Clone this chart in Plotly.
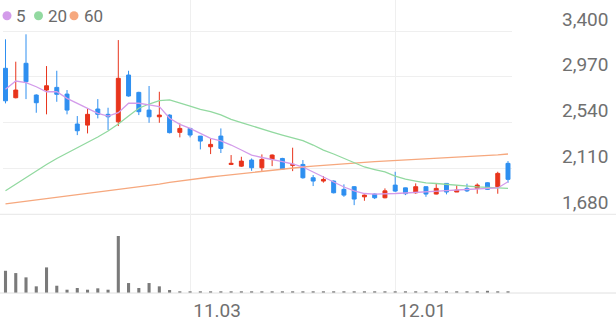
import plotly.graph_objects as go

# ---- data ----
idx = list(range(50))
opens = [3050, 2774, 3097, 2799, 2846, 2871, 2808, 2527, 2517, 2668,
         2618, 2548, 2987, 2824, 2658, 2595, 2611, 2449, 2486, 2414,
         2314, 2414, 2148, 2132, 2189, 2117, 2195, 2204, 2139, 2148,
         2023, 1992, 1992, 1914, 1939, 1844, 1870, 1835, 1954, 1928,
         1882, 1939, 1870, 1970, 1889, 1923, 1923, 1976, 1939, 2158]
highs = [3322, 3112, 3369, 2806, 3071, 3027, 2846, 2602, 2674, 2761,
         2680, 3315, 3027, 2830, 2884, 2830, 2618, 2533, 2490, 2414,
         2392, 2486, 2236, 2220, 2204, 2242, 2242, 2210, 2305, 2189,
         2048, 2038, 1998, 1961, 1945, 1866, 1875, 1923, 2079, 1930,
         1970, 1942, 1967, 1973, 1954, 1967, 1970, 1980, 2079, 2179]
lows = [2721, 2768, 2761, 2633, 2618, 2736, 2618, 2423, 2439, 2580,
        2470, 2508, 2784, 2611, 2539, 2539, 2439, 2402, 2402, 2289,
        2245, 2255, 2142, 2125, 2088, 2088, 2132, 2098, 2085, 2014,
        1945, 1977, 1876, 1844, 1766, 1807, 1823, 1830, 1889, 1860,
        1873, 1844, 1867, 1867, 1889, 1889, 1873, 1908, 1873, 1976]
closes = [2745, 2846, 2924, 2727, 2886, 2806, 2658, 2464, 2618, 2618,
          2595, 2956, 2790, 2643, 2595, 2611, 2446, 2486, 2424, 2367,
          2336, 2298, 2158, 2179, 2117, 2195, 2236, 2104, 2148, 2023,
          1992, 2007, 1882, 1860, 1823, 1860, 1835, 1900, 1898, 1873,
          1939, 1870, 1923, 1889, 1908, 1900, 1954, 1914, 2064, 2008]
volumes = [223000, 200000, 157000, 67000, 257000, 73000, 33000, 50000, 33000, 47000,
           33000, 573000, 100000, 50000, 100000, 67000, 30000, 17000, 14000, 14000,
           14000, 14000, 14000, 14000, 14000, 14000, 14000, 14000, 14000, 14000,
           14000, 14000, 14000, 14000, 14000, 14000, 14000, 14000, 14000, 14000,
           14000, 14000, 14000, 14000, 14000, 14000, 14000, 22000, 15000, 14000]
ma5 = [2853, 2931, 2915, 2877, 2830, 2830, 2768, 2722, 2680, 2628,
       2602, 2633, 2722, 2722, 2706, 2690, 2581, 2524, 2487, 2440,
       2393, 2368, 2330, 2283, 2236, 2213, 2196, 2175, 2152, 2124,
       2077, 2030, 1988, 1936, 1899, 1875, 1870, 1870, 1875, 1880,
       1884, 1889, 1894, 1903, 1908, 1913, 1917, 1922, 1927, 1986]
ma20 = [1901, 1964, 2025, 2086, 2147, 2204, 2255, 2302, 2349, 2405,
        2462, 2527, 2602, 2675, 2715, 2746, 2753, 2727, 2696, 2665,
        2643, 2612, 2571, 2540, 2513, 2480, 2452, 2424, 2396, 2372,
        2330, 2283, 2246, 2204, 2166, 2124, 2100, 2077, 2039, 2011,
        1992, 1975, 1969, 1960, 1952, 1945, 1937, 1932, 1928, 1923]
ma60 = [1777, 1789, 1801, 1813, 1825, 1838, 1850, 1862, 1874, 1886,
        1899, 1910, 1922, 1936, 1950, 1964, 1979, 1993, 2006, 2019,
        2030, 2041, 2052, 2064, 2075, 2085, 2096, 2105, 2114, 2124,
        2133, 2141, 2148, 2156, 2162, 2168, 2174, 2179, 2185, 2190,
        2194, 2199, 2204, 2208, 2213, 2218, 2224, 2231, 2238, 2246]
price_ticks = [1680, 2110, 2540, 2970, 3400]
price_tick_labels = ["1,680", "2,110", "2,540", "2,970", "3,400"]
date_ticks = [18, 38]
date_tick_labels = ["11.03", "12.01"]
legend_names = ["5", "20", "60"]

RED = "#e8341c"
BLUE = "#2e8ff0"
C5 = "#d39bea"
C20 = "#92d9a0"
C60 = "#f6a87e"
FONT = "Roboto"

fig = go.Figure()
fig.add_trace(go.Candlestick(
    x=idx, open=opens, high=highs, low=lows, close=closes,
    increasing=dict(line=dict(color=RED, width=1), fillcolor=RED),
    decreasing=dict(line=dict(color=BLUE, width=1), fillcolor=BLUE),
    whiskerwidth=0, xaxis="x", yaxis="y", showlegend=False, hoverinfo="skip"))
for vals, col in [(ma60, C60), (ma20, C20), (ma5, C5)]:
    fig.add_trace(go.Scatter(x=idx, y=vals, mode="lines",
                             line=dict(color=col, width=1.3),
                             xaxis="x", yaxis="y", showlegend=False, hoverinfo="skip"))
fig.add_trace(go.Bar(x=idx, y=volumes, marker=dict(color="#7a7a7a", line=dict(width=0)),
                     width=0.3, xaxis="x", yaxis="y2", showlegend=False, hoverinfo="skip"))

W, H = 616, 321
ml, mr, mt, mb = 3, 104, 0, 28
pw = W - ml - mr
ph = H - mt - mb
split = (293 - 214.3) / ph

def px_x(p):
    return (p - ml) / pw

def px_y(p):
    return (ph - (p - mt)) / ph

# legend: circle + label
shapes = [
    dict(type="line", xref="paper", yref="paper", x0=-ml / pw, x1=(W - ml) / pw,
         y0=split, y1=split, line=dict(color="#e6e6e6", width=1), layer="below"),
    dict(type="line", xref="paper", yref="paper", x0=-ml / pw, x1=(W - ml) / pw,
         y0=0, y1=0, line=dict(color="#e0e0e0", width=1), layer="above"),
]
annotations = []
leg_y = 15.7
for name, col, cx, tx in zip(legend_names, [C5, C20, C60], [7, 38.5, 74], [14, 46, 82]):
    shapes.append(dict(type="circle", xref="paper", yref="paper",
                       xsizemode="pixel", ysizemode="pixel",
                       xanchor=px_x(cx), yanchor=px_y(leg_y),
                       x0=-4.5, x1=4.5, y0=-4.5, y1=4.5,
                       fillcolor=col, line=dict(width=0)))
    annotations.append(dict(xref="paper", yref="paper", x=px_x(tx), y=px_y(leg_y),
                            xanchor="left", yanchor="middle", showarrow=False,
                            text=name, font=dict(family=FONT, size=17, color="#6a6a6a")))

fig.update_layout(
    width=W, height=H,
    margin=dict(l=ml, r=mr, t=mt, b=mb, pad=0),
    paper_bgcolor="white", plot_bgcolor="white",
    boxgap=0.45,
    font=dict(family=FONT, color="#707070", size=19),
    xaxis=dict(range=[-0.244, 49.39], tickmode="array", tickvals=date_ticks,
               ticktext=date_tick_labels, showgrid=True, gridcolor="#efefef", gridwidth=1,
               zeroline=False, showline=False, ticks="", anchor="y2",
               rangeslider=dict(visible=False), ticklabelshift=27, ticklabelstandoff=4,
               tickfont=dict(family=FONT, size=19, color="#707070"), fixedrange=True),
    yaxis=dict(domain=[split, 1], range=[1680, 3691], side="right",
               tickmode="array", tickvals=price_ticks, ticktext=price_tick_labels,
               showgrid=True, gridcolor="#efefef", gridwidth=1, zeroline=False,
               showline=False, ticks="", ticklabelshift=-12, ticklabelstandoff=49,
               tickfont=dict(family=FONT, size=19, color="#707070"), fixedrange=True),
    yaxis2=dict(domain=[0, split], range=[0, 790000], showgrid=False, zeroline=False,
                showticklabels=False, showline=False, ticks="", fixedrange=True),
    shapes=shapes,
    annotations=annotations,
)

fig.write_html("out.html")
